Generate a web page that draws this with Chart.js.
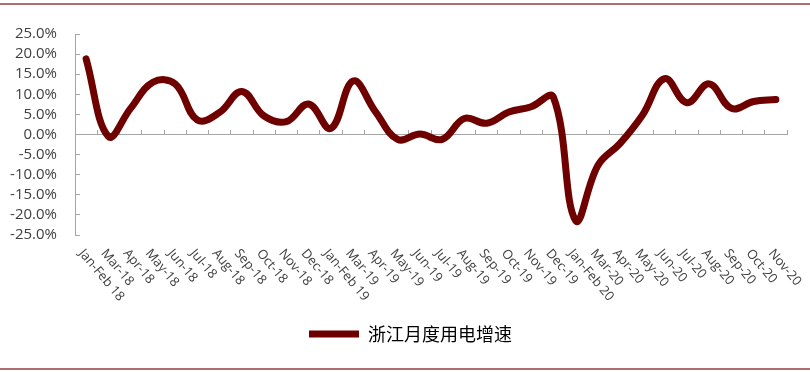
<!DOCTYPE html>
<html>
<head>
<meta charset="utf-8">
<script src="https://cdn.jsdelivr.net/npm/chart.js@4"></script>
<style>
  body { margin: 0; background: #fff; }
  .wrap { position: relative; width: 810px; height: 372px; }
  .rule { position: absolute; left: 0; width: 810px; height: 2px; background: #b06e6e; }
</style>
</head>
<body>
<div class="wrap">
  <div class="rule" style="top:3px"></div>
  <canvas id="myChart" width="810" height="372"></canvas>
  <div class="rule" style="top:368px"></div>
</div>
<script>
// 月份标签
const months = [
  'Jan-Feb 18', 'Mar-18', 'Apr-18', 'May-18', 'Jun-18', 'Jul-18', 'Aug-18', 'Sep-18',
  'Oct-18', 'Nov-18', 'Dec-18', 'Jan-Feb 19', 'Mar-19', 'Apr-19', 'May-19', 'Jun-19',
  'Jul-19', 'Aug-19', 'Sep-19', 'Oct-19', 'Nov-19', 'Dec-19', 'Jan-Feb 20', 'Mar-20',
  'Apr-20', 'May-20', 'Jun-20', 'Jul-20', 'Aug-20', 'Sep-20', 'Oct-20', 'Nov-20'
];

// 浙江月度用电增速 (%)
const growth = [
  18.8, -0.5, 6.5, 13.0, 12.6, 3.6, 5.5, 10.7,
  4.6, 3.2, 7.6, 1.5, 13.3, 5.7, -1.2, 0.1,
  -1.2, 4.0, 2.8, 5.6, 6.9, 9.3, -21.4, -7.7,
  -2.2, 4.8, 13.9, 7.9, 12.6, 6.5, 8.2, 8.7
];

const yTicks = { min: -25, max: 25, step: 5 };

const lineColor = '#6f0000';
const axisColor = '#a6a6a6';

// 斜向的月份标签 (从刻度处向右下方)
const slantLabels = {
  id: 'slantLabels',
  afterLayout(chart) {
    // 图例整体往右挪一点，对齐原图
    chart.legend.left += 17;
    chart.legend.right += 17;
  },
  afterDraw(chart) {
    const c = chart.ctx;
    const xs = chart.scales.x;
    c.save();
    c.font = '13px "Open Sans"';
    c.fillStyle = '#404040';
    c.textAlign = 'left';
    c.textBaseline = 'middle';
    months.forEach((m, i) => {
      const px = xs.getPixelForValue(i);
      c.save();
      c.translate(px - 5, chart.chartArea.bottom + 16);
      c.rotate(50 * Math.PI / 180);
      c.fillText(m, 0, 0);
      c.restore();
    });
    c.restore();
  }
};

const ctx = document.getElementById('myChart').getContext('2d');

const myChart = new Chart(ctx, {
  type: 'line',
  data: {
    labels: months,
    datasets: [{
      label: '浙江月度用电增速',
      data: growth,
      borderColor: lineColor,
      backgroundColor: lineColor,
      borderWidth: 7,
      borderCapStyle: 'round',
      borderJoinStyle: 'round',
      pointRadius: 0,
      pointHoverRadius: 0,
      tension: 0.4,
      fill: false
    }]
  },
  options: {
    responsive: false,
    animation: false,
    devicePixelRatio: 1,
    layout: { padding: { left: 0, right: 23, top: 34, bottom: 19 } },
    scales: {
      x: {
        type: 'category',
        position: { y: 0 },
        offset: true,
        grid: {
          offset: true,
          drawOnChartArea: false,
          drawTicks: true,
          tickLength: -5,
          color: axisColor
        },
        border: { color: axisColor, width: 1 },
        ticks: { display: false }
      },
      x2: {
        type: 'category',
        position: 'bottom',
        labels: months,
        grid: { display: false },
        border: { display: false },
        ticks: { display: false },
        afterFit: (s) => { s.height = 80; }
      },
      y: {
        min: yTicks.min,
        max: yTicks.max,
        grid: {
          drawOnChartArea: false,
          drawTicks: true,
          tickLength: -5,
          color: axisColor
        },
        border: { color: axisColor, width: 1 },
        ticks: {
          stepSize: yTicks.step,
          autoSkip: false,
          padding: 23,
          color: '#404040',
          font: { family: '"Open Sans"', size: 15 },
          callback: (v) => v.toFixed(1) + '%'
        },
        afterFit: (s) => { s.width = 75; }
      }
    },
    plugins: {
      legend: {
        position: 'bottom',
        labels: {
          usePointStyle: true,
          pointStyle: 'line',
          pointStyleWidth: 50,
          padding: 10,
          color: '#000',
          font: { family: '"Noto Sans CJK SC"', size: 18 }
        }
      },
      tooltip: { enabled: false }
    }
  },
  plugins: [slantLabels]
});
</script>
</body>
</html>
